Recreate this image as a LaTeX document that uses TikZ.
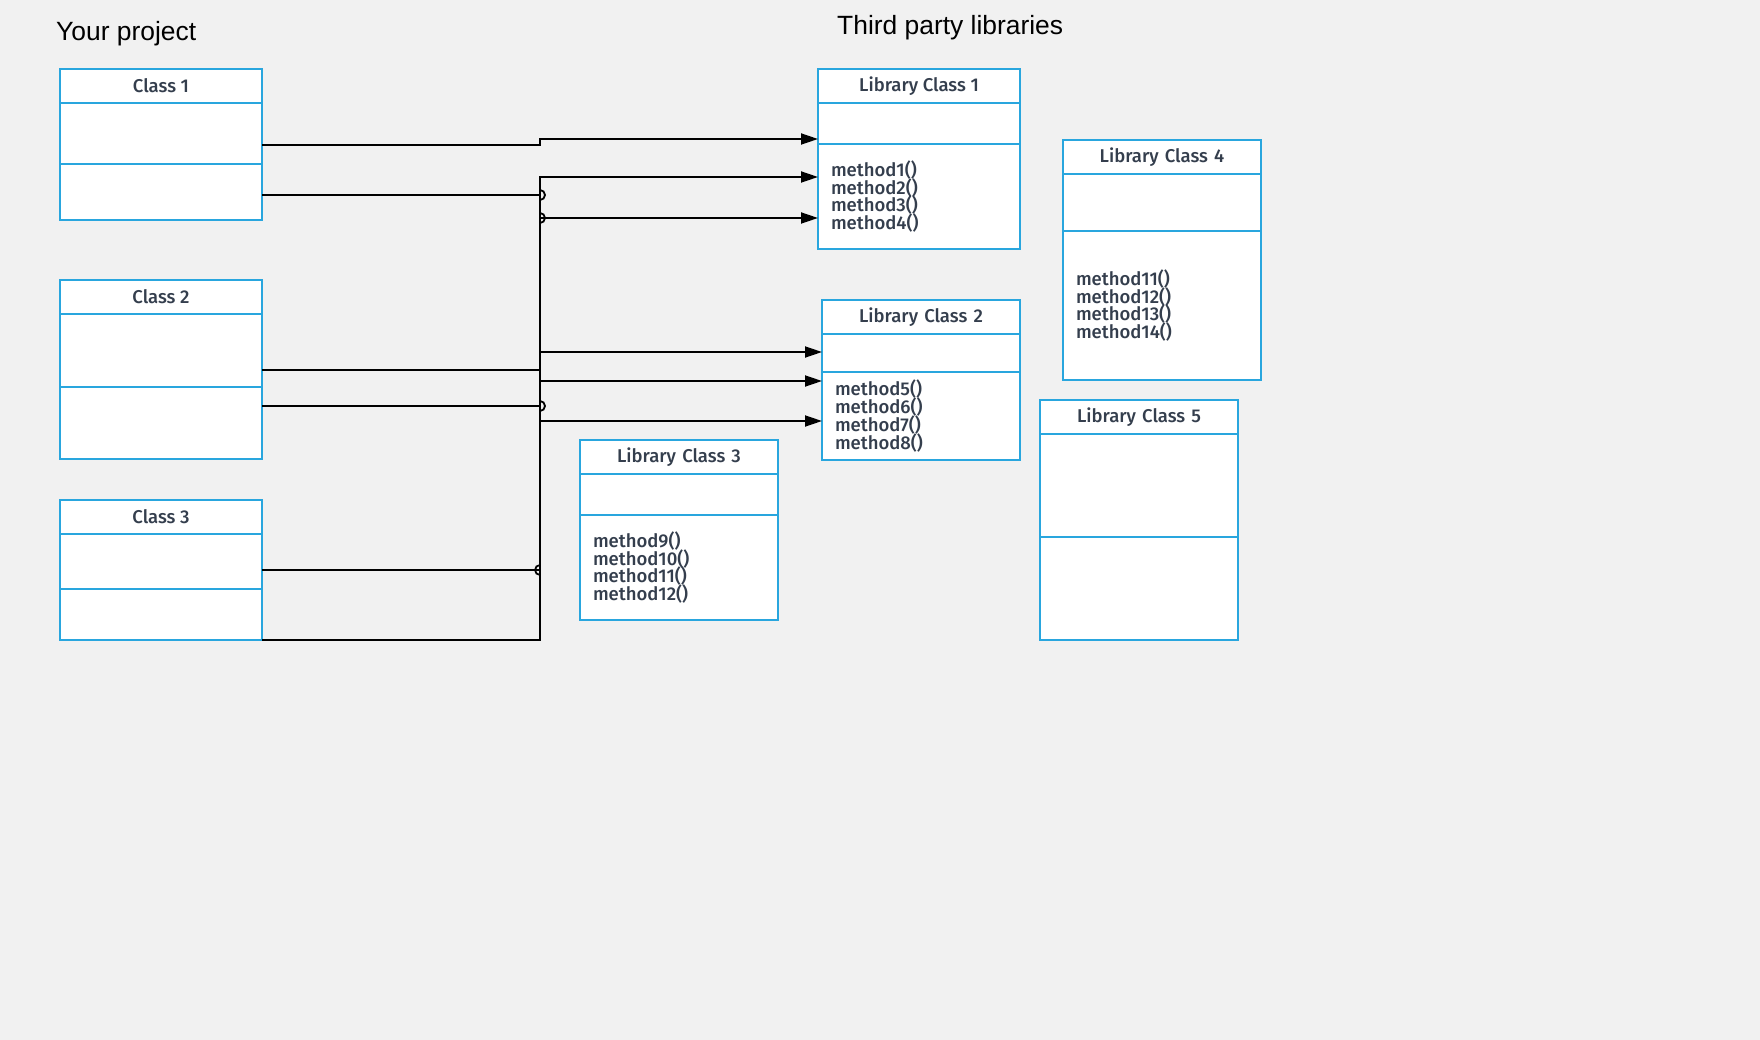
\documentclass[tikz,border=0pt]{standalone}
\usepackage{fontspec}
\IfFontExistsTF{Fira Sans Medium}{\setmainfont{Fira Sans Medium}}{\setmainfont{Fira Sans}}
\newfontfamily\titlefont{Liberation Sans}
\usetikzlibrary{positioning,arrows.meta}
\definecolor{umlblue}{RGB}{41,166,222}
\definecolor{umltext}{RGB}{52,62,77}
\definecolor{canvas}{RGB}{241,241,241}
\newcommand\umlfont{\fontsize{18.5}{17.8}\selectfont\lineskiplimit=-50pt\relax}

\begin{document}
\begin{tikzpicture}
[x=1pt, y=-1pt, >={Triangle[length=17pt,width=11pt]},
part/.style={draw=umlblue, fill=white, line width=2pt, inner sep=0pt, outer sep=0pt,
  minimum width=202pt, text=umltext, font=\umlfont},
head/.style={part, minimum height=34pt, align=center},
meth/.style={part, align=left, inner xsep=13pt, text width=176pt},
narrow/.style={minimum width=198pt, text width=172pt},
conn/.style={->, line width=1.8pt},
jump/.style={line width=1.8pt},
title/.style={font=\titlefont\fontsize{26.4}{30}\selectfont, anchor=base west, inner sep=0pt}
]
  \useasboundingbox (0,0) rectangle (1760,1040);
  \fill[canvas] (0,0) rectangle (1760,1040);

  \node[title] (yp) at (56,40.7) {Your project};
  \node[title] (tp) at (837,35) {Third party libraries};

  % your project
  \node[head, anchor=north west] (c1) at (60,69) {Class 1};
  \node[part] (c1a) [below=0pt of c1, minimum height=61pt] {};
  \node[part] (c1m) [below=0pt of c1a, minimum height=56pt] {};

  \node[head, anchor=north west] (c2) at (60,280) {Class 2};
  \node[part] (c2a) [below=0pt of c2, minimum height=73pt] {};
  \node[part] (c2m) [below=0pt of c2a, minimum height=72pt] {};

  \node[head, anchor=north west] (c3) at (60,500) {Class 3};
  \node[part] (c3a) [below=0pt of c3, minimum height=55pt] {};
  \node[part] (c3m) [below=0pt of c3a, minimum height=51pt] {};

  % third party libraries
  \node[head, anchor=north west] (lc1) at (818,69) {Library Class 1};
  \node[part] (lc1a) [below=0pt of lc1, minimum height=41pt] {};
  \node[meth] (lc1m) [below=0pt of lc1a, minimum height=105pt]
    {method1()\\method2()\\method3()\\method4()};

  \node[head, narrow, anchor=north west] (lc2) at (822,300) {Library Class 2};
  \node[part, narrow] (lc2a) [below=0pt of lc2, minimum height=38pt] {};
  \node[meth, narrow] (lc2m) [below=0pt of lc2a, minimum height=88pt]
    {method5()\\method6()\\method7()\\method8()};

  \node[head, narrow, anchor=north west] (lc3) at (580,440) {Library Class 3};
  \node[part, narrow] (lc3a) [below=0pt of lc3, minimum height=41pt] {};
  \node[meth, narrow] (lc3m) [below=0pt of lc3a, minimum height=105pt]
    {method9()\\method10()\\method11()\\method12()};

  \node[head, narrow, anchor=north west] (lc4) at (1063,140) {Library Class 4};
  \node[part, narrow] (lc4a) [below=0pt of lc4, minimum height=57pt] {};
  \node[meth, narrow] (lc4m) [below=0pt of lc4a, minimum height=149pt]
    {method11()\\method12()\\method13()\\method14()};

  \node[head, narrow, anchor=north west] (lc5) at (1040,400) {Library Class 5};
  \node[part, narrow] (lc5a) [below=0pt of lc5, minimum height=103pt] {};
  \node[part, narrow] (lc5m) [below=0pt of lc5a, minimum height=103pt] {};

  % ports
  \coordinate (c1p1) at ([yshift=-11.5pt]c1a.east);
  \coordinate (c1p2) at ([yshift=-3pt]c1m.east);
  \coordinate (c2p1) at ([yshift=-19.5pt]c2a.east);
  \coordinate (c2p2) at ([yshift=17pt]c2m.east);
  \coordinate (c3p1) at ([yshift=-8.5pt]c3a.east);
  \coordinate (c3p2) at (c3m.south east);
  \coordinate (lc1p1) at ([yshift=-15.5pt]lc1a.west);
  \coordinate (lc1p2) at ([yshift=19.5pt]lc1m.west);
  \coordinate (lc1p3) at ([yshift=-21.5pt]lc1m.west);
  \coordinate (lc2p1) at ([yshift=1pt]lc2a.west);
  \coordinate (lc2p2) at ([yshift=35pt]lc2m.west);
  \coordinate (lc2p3) at ([yshift=-5pt]lc2m.west);
  \coordinate (bus) at (540,0);

  \draw[conn] (c1p1) -| (bus |- lc1p1) -- (lc1p1);
  \draw[conn] (c1p2) -| (bus |- lc2p3) -- (lc2p3);
  \draw[conn] (c2p1) -| (bus |- lc1p2) -- (lc1p2);
  \draw[conn] (c2p2) -| (bus |- lc2p2) -- (lc2p2);
  \draw[conn] (c3p1) -| (bus |- lc1p3) -- (lc1p3);
  \draw[conn] (c3p2) -| (bus |- lc2p1) -- (lc2p1);

  % line jumps
  \draw[jump] (bus |- c1p2) ++(0,-5) arc[start angle=90, end angle=-90, radius=5pt];
  \draw[jump] (bus |- lc1p3) ++(0,-5) arc[start angle=90, end angle=-90, radius=5pt];
  \draw[jump] (bus |- c2p2) ++(0,-5) arc[start angle=90, end angle=-90, radius=5pt];
  \draw[jump] (bus |- c3p1) ++(0,-5) arc[start angle=90, end angle=270, radius=5pt];
\end{tikzpicture}
\end{document}
